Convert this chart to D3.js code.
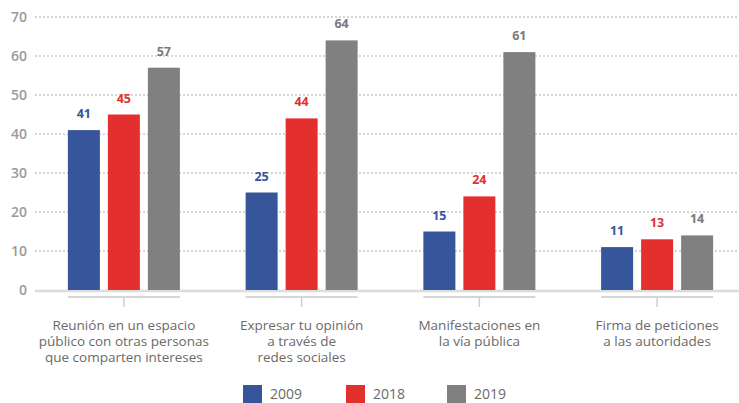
<!DOCTYPE html>
<html>
<head>
<meta charset="utf-8">
<script src="https://cdn.jsdelivr.net/npm/d3@7/dist/d3.min.js"></script>
<style>
  html, body { margin: 0; padding: 0; background: #fff; }
  svg { display: block; font-family: "Open Sans", "Noto Sans", sans-serif; }
</style>
</head>
<body>
<svg id="chart" width="739" height="403"></svg>
<script>
// Participation forms (multi-line labels) and values per year
const categories = [
  ["Reunión en un espacio", "público con otras personas", "que comparten intereses"],
  ["Expresar tu opinión", "a través de", "redes sociales"],
  ["Manifestaciones en", "la vía pública"],
  ["Firma de peticiones", "a las autoridades"]
];
const years = ["2009", "2018", "2019"];
const values2009 = [41, 25, 15, 11];
const values2018 = [45, 44, 24, 13];
const values2019 = [57, 64, 61, 14];
const yTicks = [0, 10, 20, 30, 40, 50, 60, 70];

const seriesValues = [values2009, values2018, values2019];
const barColors = ["#36559a", "#e3302f", "#808080"];
const labelColors = ["#36559a", "#e3302f", "#7a7a7a"];

const svg = d3.select("#chart");
const W = 739;

const y = d3.scaleLinear().domain([0, 70]).range([290, 17]);
const x0 = d3.scaleBand().domain(d3.range(categories.length)).range([35, 746]).padding(0);
const x1 = d3.scaleBand().domain(years).range([0, 112]).paddingInner(0.2);

// Dotted gridlines
svg.append("g")
  .selectAll("line")
  .data(yTicks.filter(d => d > 0))
  .join("line")
  .attr("x1", 35).attr("x2", W)
  .attr("y1", d => y(d)).attr("y2", d => y(d))
  .attr("stroke", "#c8c8c8")
  .attr("stroke-width", 1.5)
  .attr("stroke-dasharray", "2,2");

// Baseline
svg.append("line")
  .attr("x1", 35).attr("x2", W)
  .attr("y1", y(0) + 1).attr("y2", y(0) + 1)
  .attr("stroke", "#dcdcdc")
  .attr("stroke-width", 2.5);

// Y tick labels
svg.append("g")
  .selectAll("text")
  .data(yTicks)
  .join("text")
  .attr("x", 27)
  .attr("y", d => y(d))
  .attr("dy", "0.35em")
  .attr("text-anchor", "end")
  .attr("fill", "#9a9a9a")
  .attr("font-size", 14)
  .attr("font-weight", 600)
  .text(d => d);

// Bar groups
const groups = svg.append("g")
  .selectAll("g")
  .data(categories.map((c, i) => i))
  .join("g")
  .attr("transform", i => `translate(${x0(i) + x0.bandwidth() / 2 - 56},0)`);

groups.selectAll("rect")
  .data(i => years.map((yr, s) => ({ yr, s, v: seriesValues[s][i] })))
  .join("rect")
  .attr("x", d => x1(d.yr))
  .attr("width", x1.bandwidth())
  .attr("y", d => y(d.v))
  .attr("height", d => y(0) - y(d.v))
  .attr("fill", d => barColors[d.s]);

groups.selectAll("text.val")
  .data(i => years.map((yr, s) => ({ yr, s, v: seriesValues[s][i] })))
  .join("text")
  .attr("class", "val")
  .attr("x", d => x1(d.yr) + x1.bandwidth() / 2)
  .attr("y", d => y(d.v) - 12)
  .attr("text-anchor", "middle")
  .attr("font-size", 12.5)
  .attr("font-weight", 700)
  .attr("fill", d => labelColors[d.s])
  .text(d => d.v);

// Group bracket and tick under each group
groups.append("line")
  .attr("x1", 0).attr("x2", 112)
  .attr("y1", 297).attr("y2", 297)
  .attr("stroke", "#d6d6d6").attr("stroke-width", 2);
groups.append("line")
  .attr("x1", 56).attr("x2", 56)
  .attr("y1", 297).attr("y2", 307)
  .attr("stroke", "#cfcfcf").attr("stroke-width", 1.5);

// Category labels
groups.append("text")
  .attr("text-anchor", "middle")
  .attr("font-size", 13.5)
  .attr("fill", "#6a6a6a")
  .selectAll("tspan")
  .data(i => categories[i])
  .join("tspan")
  .attr("x", 56)
  .attr("y", (d, k) => 330 + k * 16)
  .text(d => d);

// Legend
const legendX = [243, 346, 447];
const legend = svg.append("g")
  .selectAll("g")
  .data(years)
  .join("g")
  .attr("transform", (d, i) => `translate(${legendX[i]},385)`);
legend.append("rect")
  .attr("width", 19).attr("height", 18)
  .attr("fill", (d, i) => barColors[i]);
legend.append("text")
  .attr("x", 27).attr("y", 9)
  .attr("dy", "0.35em")
  .attr("font-size", 14)
  .attr("fill", "#6a6a6a")
  .text(d => d);
</script>
</body>
</html>
